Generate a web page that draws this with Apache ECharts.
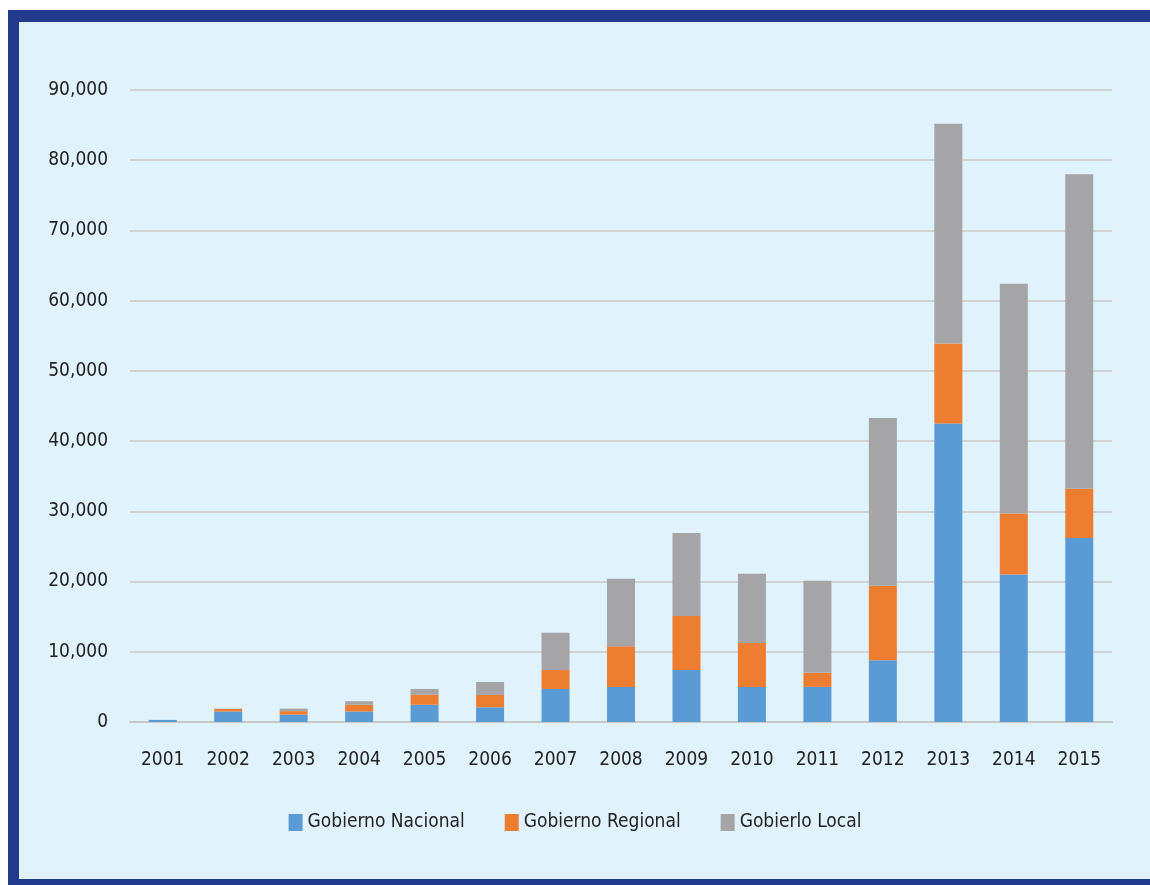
<!DOCTYPE html>
<html><head><meta charset="utf-8">
<script src="https://cdn.jsdelivr.net/npm/echarts@6/dist/echarts.min.js"></script>
<style>
html,body{margin:0;padding:0;background:#ffffff;width:1150px;height:885px;overflow:hidden;}
#frame{position:absolute;left:8px;top:10px;width:1160px;height:857px;background:#e0f2fc;border-left:11px solid #213a8c;border-top:12px solid #213a8c;border-bottom:7px solid #213a8c;}
#chart{position:absolute;left:0;top:0;width:1150px;height:885px;}
</style></head>
<body>
<div id="frame"></div>
<div id="chart"></div>
<script>
const years = ['2001','2002','2003','2004','2005','2006','2007','2008','2009','2010','2011','2012','2013','2014','2015'];
const seriesNames = ['Gobierno Nacional','Gobierno Regional','Gobierlo Local'];
const nacional = [300,1500,1050,1500,2450,2100,4700,5000,7400,5000,5000,8800,42500,21000,26200];
const regional = [0,350,500,950,1450,1750,2700,5800,7700,6250,2000,10600,11400,8700,7000];
const local    = [0,50,350,500,800,1850,5300,9600,11800,9850,13100,23900,31300,32700,44800];
const colors = ['#5b9bd5','#ed7d31','#a5a5a7'];
const fontFam = '"Liberation Sans Narrow","DejaVu Sans Condensed",sans-serif';

const chart = echarts.init(document.getElementById('chart'), null, {renderer:'canvas'});
const data = [nacional, regional, local];
chart.setOption({
  backgroundColor: 'transparent',
  animation: false,
  grid: {left:130, right:38, top:90, bottom:163},
  legend: {
    data: seriesNames, bottom: 48, left: 'center',
    itemWidth: 14, itemHeight: 17, itemGap: 40,
    textStyle: {fontFamily: fontFam, fontSize: 19, color: '#222'},
    icon: 'rect'
  },
  xAxis: {
    type: 'category', data: years,
    axisLine: {lineStyle: {color: '#c8c8c8', width: 2}},
    axisTick: {show: false},
    axisLabel: {fontFamily: fontFam, fontSize: 19, color: '#222', margin: 29}
  },
  yAxis: {
    type: 'value', min: 0, max: 90000, interval: 10000,
    axisLine: {show: false}, axisTick: {show: false},
    splitLine: {lineStyle: {color: '#d2d2d2', width: 2}},
    axisLabel: {fontFamily: fontFam, fontSize: 19, color: '#222', margin: 22,
      formatter: v => v.toLocaleString('en-US')}
  },
  series: seriesNames.map((n,i)=>({
    name: n, type: 'bar', stack: 'total', barWidth: 28,
    itemStyle: {color: colors[i]}, data: data[i]
  }))
});
</script>
</body></html>
